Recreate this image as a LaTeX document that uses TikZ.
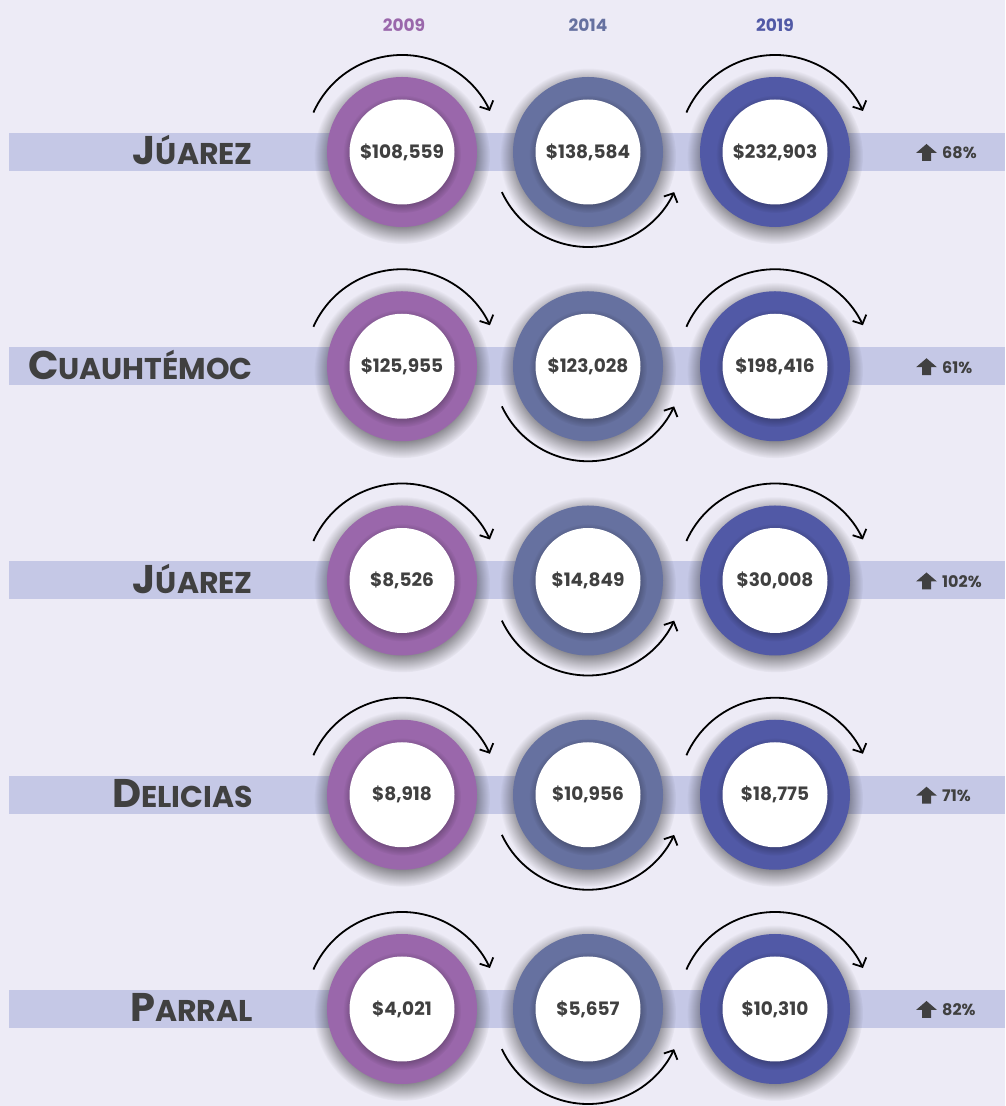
\documentclass[tikz,border=0pt]{standalone}
\usepackage{fontspec}
\setmainfont{Poppins}
\usetikzlibrary{arrows.meta, fadings}

\definecolor{bgc}{RGB}{237,235,246}
\definecolor{bandc}{RGB}{197,200,230}
\definecolor{yrA}{RGB}{154,103,171}
\definecolor{yrB}{RGB}{102,113,160}
\definecolor{yrC}{RGB}{81,89,166}
\definecolor{ink}{RGB}{64,64,64}

% soft disc for the shadows
\pgfdeclareradialshading{softdisc}{\pgfpointorigin}{color(0bp)=(white); color(19bp)=(white); color(25bp)=(black); color(50bp)=(black)}
\pgfdeclarefading{softdisc}{\pgfuseshading{softdisc}}

\begin{document}
\begin{tikzpicture}[x=1pt, y=1pt,
  ring/.style={circle, minimum size=150pt, inner sep=0pt, fill=#1},
  hole/.style={circle, minimum size=105pt, inner sep=0pt, fill=white, text=ink, font=\bfseries\fontsize{18.5}{18.5}\selectfont},
  shade/.style={fill=black, fill opacity=#1, path fading=softdisc},
  yr/.style={inner sep=0pt, font=\bfseries\fontsize{17}{17}\selectfont},
  lbl/.style={inner sep=0pt, text=ink, font=\bfseries\fontsize{30}{30}\selectfont},
  pct/.style={inner sep=0pt, text=ink, font=\bfseries\fontsize{16}{16}\selectfont},
  turn/.style={line width=1.8pt, -{Straight Barb[length=7pt, width=15pt, line width=1.8pt]}}]
\fill[bgc] (0,0) rectangle (1005,1106);
\useasboundingbox (0,0) rectangle (1005,1106);

\node[yr, text=yrA, anchor=base] (y1) at (404,1074) {2009};
\node[yr, text=yrB, anchor=base] (y2) at (588,1074) {2014};
\node[yr, text=yrC, anchor=base] (y3) at (775,1074) {2019};

\foreach \f/\r/\a/\b/\c/\p [count=\i] in {J/ÚAREZ/{108,559}/{138,584}/{232,903}/68, C/UAUHTÉMOC/{125,955}/{123,028}/{198,416}/61, J/ÚAREZ/{8,526}/{14,849}/{30,008}/102, D/ELICIAS/{8,918}/{10,956}/{18,775}/71, P/ARRAL/{4,021}/{5,657}/{10,310}/82}{
  \pgfmathsetmacro\cy{954-214.25*(\i-1)}
  \fill[bandc] (9,\cy-19) rectangle (1005,\cy+19);
  \node[lbl, anchor=base east] (n\i) at (253,\cy-13) {{\fontsize{40}{40}\selectfont\f}\r};
  \foreach \x/\s/\t in {402/a/yrA, 588/b/yrB, 775/c/yrC}{
    \fill[shade=0.5] (\x,\cy-4) circle (88);
    \node[ring=\t] (\s\i) at (\x,\cy) {};
    \fill[shade=0.4] (\x,\cy-2) circle (59);
  }
  \node[hole] (ha\i) at (a\i) {\$\a};
  \node[hole] (hb\i) at (b\i) {\$\b};
  \node[hole] (hc\i) at (c\i) {\$\c};
  \draw[turn] (a\i) ++(156:97) arc[start angle=156, end angle=25, radius=97];
  \draw[turn] (b\i) ++(205:95) arc[start angle=205, end angle=335, radius=95];
  \draw[turn] (c\i) ++(156:97) arc[start angle=156, end angle=25, radius=97];
  \fill[ink] (916,\cy-1) -- (926.5,\cy+8) -- (937,\cy-1) -- (931,\cy-1) -- (931,\cy-9) -- (922,\cy-9) -- (922,\cy-1) -- cycle;
  \node[pct, anchor=base west] (p\i) at (942,\cy-7) {\p\%};
}
\end{tikzpicture}
\end{document}
